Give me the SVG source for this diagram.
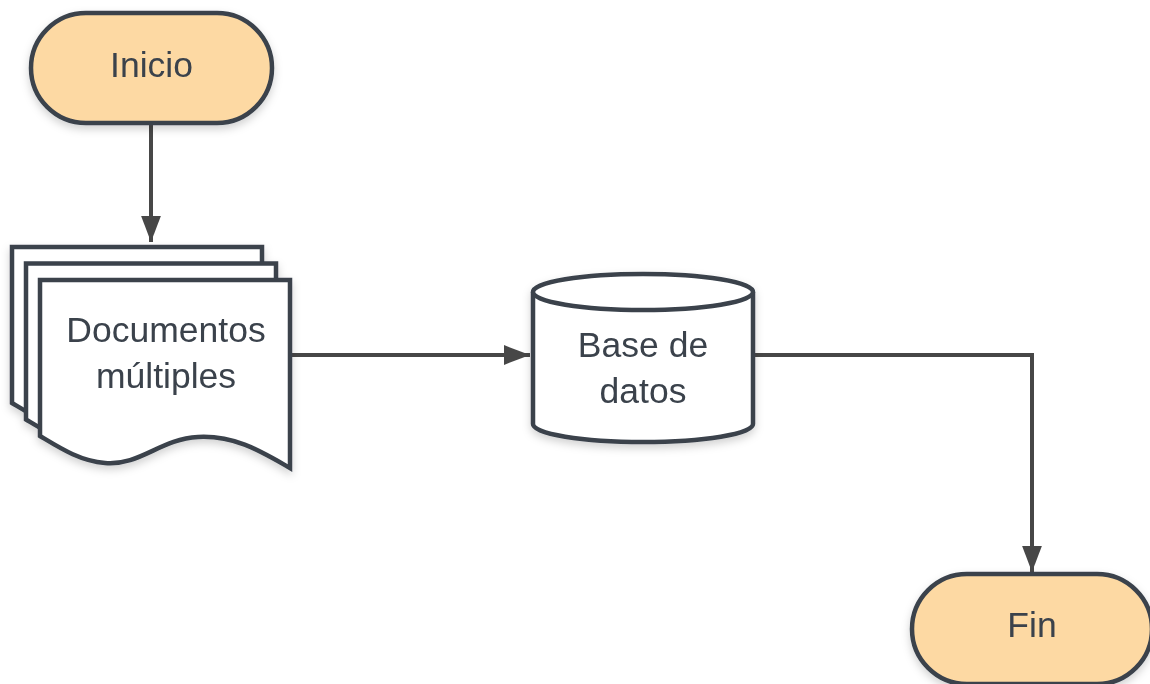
<svg xmlns="http://www.w3.org/2000/svg" width="1150" height="684" viewBox="0 0 1150 684">
<style>
.term{fill:#fdd9a3;stroke:#3a424c;stroke-width:4.5}
.shape{fill:#ffffff;stroke:#3a424c;stroke-width:4.5;stroke-linejoin:miter}
.lbl{font-family:"Liberation Sans",Arial,sans-serif;font-size:35.5px;fill:#3a424c;text-anchor:middle}
.conn{fill:none;stroke:#474747;stroke-width:4}
</style>
<defs>
<marker id="ah" viewBox="0 0 10 10" refX="10" refY="5" markerWidth="6.5" markerHeight="6.5" markerUnits="strokeWidth" orient="auto">
<path d="M0,1.2 L10,5 L0,8.8 Z" fill="#474747"/>
</marker>
<filter id="sh" x="-10%" y="-10%" width="130%" height="140%">
<feDropShadow dx="0" dy="4" stdDeviation="4" flood-color="#000" flood-opacity="0.18"/>
</filter>
<path id="doc" d="M0,0 H250 V188 C222,172 195,155 158,157 C120,159 100,186 65,183 C40,181 20,168 0,156 Z"/>
</defs>
<rect width="1150" height="684" fill="#ffffff"/>
<g id="connectors">
<path class="conn" d="M151,124 V242" marker-end="url(#ah)"/>
<path class="conn" d="M292,355 H530" marker-end="url(#ah)"/>
<path class="conn" d="M753,355 H1032 V572" marker-end="url(#ah)"/>
</g>
<g id="inicio" filter="url(#sh)">
<rect class="term" x="31" y="13" width="241" height="110" rx="55"/>
<text class="lbl" x="151.5" y="77">Inicio</text>
</g>
<g id="documentos" filter="url(#sh)">
<use href="#doc" class="shape" x="12" y="247"/>
<use href="#doc" class="shape" x="26" y="263.5"/>
<use href="#doc" class="shape" x="40" y="280"/>
<text class="lbl" x="166" y="342">Documentos</text>
<text class="lbl" x="166" y="388">múltiples</text>
</g>
<g id="basedatos" filter="url(#sh)">
<path class="shape" d="M533,292 A110,18 0 0 1 753,292 V424 A110,18 0 0 1 533,424 Z"/>
<path class="shape" d="M533,292 A110,18 0 0 0 753,292" fill="none"/>
<text class="lbl" x="643" y="357">Base de</text>
<text class="lbl" x="643" y="403">datos</text>
</g>
<g id="fin" filter="url(#sh)">
<rect class="term" x="912" y="574" width="240" height="110" rx="55"/>
<text class="lbl" x="1032" y="637">Fin</text>
</g>
</svg>
